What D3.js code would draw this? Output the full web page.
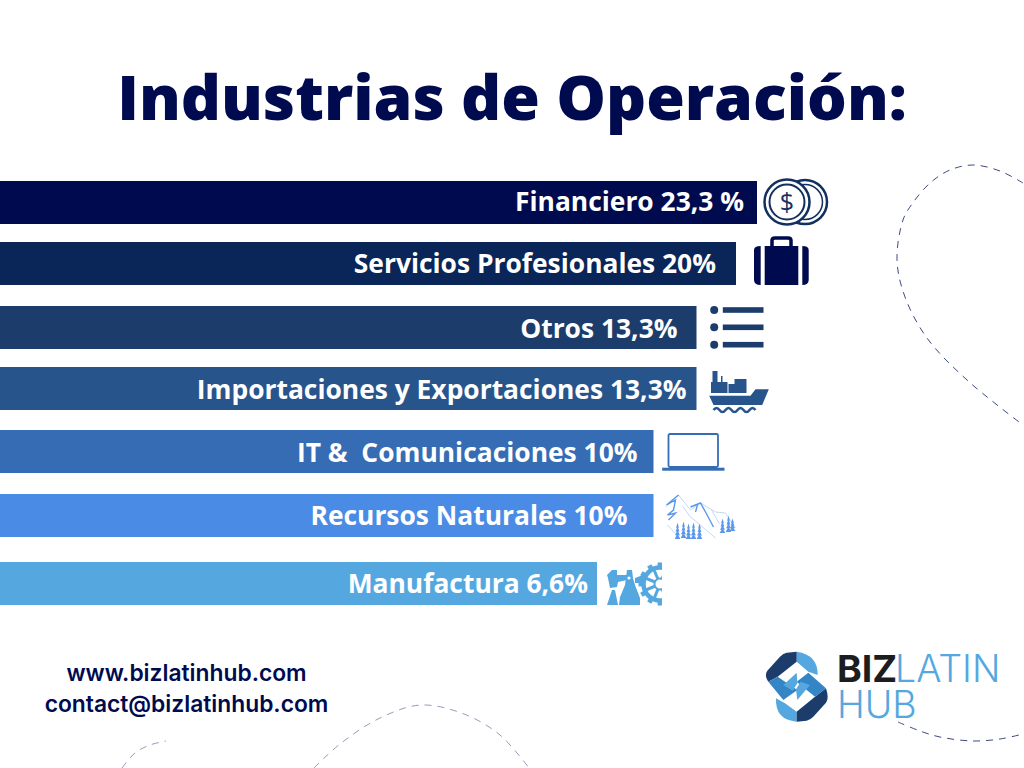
<!DOCTYPE html>
<html>
<head>
<meta charset="utf-8">
<script src="https://cdn.jsdelivr.net/npm/d3@7"></script>
<style>
  html, body { margin: 0; padding: 0; background: #fff; }
  svg { display: block; }
</style>
</head>
<body>
<div id="chart"></div>
<script>
const categories = ["Financiero", "Servicios Profesionales", "Otros", "Importaciones y Exportaciones", "IT &  Comunicaciones", "Recursos Naturales", "Manufactura"]
const values = [23.3, 20, 13.3, 13.3, 10, 10, 6.6]
const valueLabels = ["23,3 %", "20%", "13,3%", "13,3%", "10%", "10%", "6,6%"]
const barColors = ["#000b4f", "#0a2558", "#1c3d6b", "#28548c", "#366cb3", "#4a8be6", "#55a8df"]
const iconNames = ["coins", "briefcase", "list", "ship", "laptop", "mountains", "factory"]

// the bars in the picture are not proportional, so the scale has to bend
const valueStops = [6.6, 10, 13.3, 20, 23.3]
const lengthStops = [597, 653.5, 696.5, 736, 757]
const rowTops = [181, 242, 306, 367, 430, 494, 562]
const labelGaps = [13, 20, 19, 10, 16, 26, 9]
const labelDrops = [30, 31, 32, 32, 32, 31, 31]

const width = 1024, height = 768, barHeight = 43

const svg = d3.select("#chart").append("svg")
    .attr("width", width)
    .attr("height", height)

const x = d3.scaleLinear().domain(valueStops).range(lengthStops)
const y = d3.scaleOrdinal().domain(categories).range(rowTops)

const dashes = [
    [[1023,183],[1000,171],[973,165],[950,170],[930,183],[912,204],[903,220],[897,260],[905,297],[927,338],[967,380],[1023,425]],
    [[122,768],[135,753],[150,745],[166,741]],
    [[314,768],[340,744],[380,718],[421,705],[464,714],[500,735],[529,768]],
    [[898,722],[920,731],[940,737],[973,741],[1000,739],[1023,734]]
]
const dashOpacity = [1, 0.55, 0.55, 1]
const curve = d3.line().curve(d3.curveCatmullRom)
svg.selectAll(".dash").data(dashes).enter()
    .append("path")
    .attr("class", "dash")
    .attr("d", curve)
    .attr("fill", "none")
    .attr("stroke", "#3d4a80")
    .attr("stroke-width", 1)
    .attr("stroke-opacity", (d, i) => dashOpacity[i])
    .attr("stroke-dasharray", "7 6")

svg.append("text")
    .attr("x", 512)
    .attr("y", 120)
    .attr("text-anchor", "middle")
    .attr("font-family", "Open Sans")
    .attr("font-weight", 800)
    .attr("font-size", 62.5)
    .attr("fill", "#000b4f")
    .text("Industrias de Operación:")

svg.selectAll(".bar").data(values).enter()
    .append("rect")
    .attr("class", "bar")
    .attr("x", 0)
    .attr("y", (d, i) => y(categories[i]))
    .attr("width", d => x(d))
    .attr("height", barHeight)
    .attr("fill", (d, i) => barColors[i])

svg.selectAll(".label").data(values).enter()
    .append("text")
    .attr("class", "label")
    .attr("xml:space", "preserve")
    .style("white-space", "pre")
    .attr("x", (d, i) => x(d) - labelGaps[i])
    .attr("y", (d, i) => y(categories[i]) + labelDrops[i])
    .attr("text-anchor", "end")
    .attr("font-family", "Open Sans")
    .attr("font-weight", 700)
    .attr("font-size", 26.4)
    .attr("fill", "#fff")
    .text((d, i) => categories[i] + " " + valueLabels[i])

// icons are drawn from the end of their bar
const icons = {
    coins(g) {
        const c = "#12305f"
        g.append("circle").attr("cx", 48).attr("cy", 21).attr("r", 22).attr("fill", "none").attr("stroke", c).attr("stroke-width", 2.5)
        g.append("circle").attr("cx", 48).attr("cy", 21).attr("r", 17.5).attr("fill", "none").attr("stroke", c).attr("stroke-width", 1.5)
        g.append("circle").attr("cx", 30).attr("cy", 21).attr("r", 22.5).attr("fill", "#fff").attr("stroke", c).attr("stroke-width", 2.5)
        g.append("circle").attr("cx", 30).attr("cy", 21).attr("r", 17.5).attr("fill", "none").attr("stroke", c).attr("stroke-width", 2)
        g.append("text").attr("x", 30).attr("y", 30).attr("text-anchor", "middle")
            .attr("font-family", "Open Sans").attr("font-weight", 400).attr("font-size", 25).attr("fill", c).text("$")
    },
    briefcase(g) {
        const c = "#000b4f"
        g.append("path").attr("d", "M36,5 V-1.5 Q36,-4 39,-4 H52 Q55,-4 55,-1.5 V5")
            .attr("fill", "none").attr("stroke", c).attr("stroke-width", 3.5)
        g.append("path").attr("d", "M18,8 Q18,4 24.7,4 V43 Q18,43 18,38 Z").attr("fill", c)
        g.append("rect").attr("x", 28.7).attr("y", 4).attr("width", 33.6).attr("height", 39).attr("fill", c)
        g.append("path").attr("d", "M66.3,4 Q72.7,4 72.7,8 V38 Q72.7,43 66.3,43 Z").attr("fill", c)
    },
    list(g) {
        const c = "#1c3d6b"
        g.selectAll("circle").data([4, 21.3, 38.7]).enter().append("circle")
            .attr("cx", 17.7).attr("cy", d => d).attr("r", 4).attr("fill", c)
        g.selectAll("rect").data([4, 21.3, 38.7]).enter().append("rect")
            .attr("x", 26.3).attr("y", d => d - 2.8).attr("width", 40.7).attr("height", 5.6).attr("fill", c)
    },
    ship(g) {
        const c = "#28548c"
        g.append("path").attr("d", "M16,4 H21 V15 H24.5 V9 H26 V15 H31 V26 H14.5 V15 H16 Z M32,26 V17 H38 V12 H50 V26 Z").attr("fill", c)
        g.append("path").attr("d", "M12.7,28.7 H54 L59,22.3 H72.3 L65.7,38 H17 Z").attr("fill", c)
        g.append("path").attr("d", "M17,43 q3,-4 6,0 q3,4 6,0 q3,-4 6,0 q3,4 6,0 q3,-4 6,0 q3,4 6,0 q3,-4 6,0")
            .attr("fill", "none").attr("stroke", c).attr("stroke-width", 2.5)
    },
    laptop(g) {
        const c = "#366cb3"
        g.append("rect").attr("x", 15).attr("y", 4).attr("width", 49.5).attr("height", 33).attr("rx", 1.5)
            .attr("fill", "none").attr("stroke", c).attr("stroke-width", 1.8)
        g.append("rect").attr("x", 8.7).attr("y", 37.7).attr("width", 62.3).attr("height", 3).attr("fill", c)
    },
    mountains(g) {
        const c = "#5b97ea"
        g.append("path").attr("d", "M25,1 L37,16 L47,9 L62,18 L72,19 L82,34 M29,12 L36,22 L62,44 M14,31 L24,42 M25,1 L12,13 M58,16 L66,30")
            .attr("fill", "none").attr("stroke", "#bcd4f6").attr("stroke-width", 0.9)
        g.append("path").attr("d", "M25,1 L13,11 L22,6 L20,16 L14,21 L22,19 L15,26 M37,13 L47,9 L52,18 L60,33 M44,11 L42,18")
            .attr("fill", "none").attr("stroke", c).attr("stroke-width", 1.4)
        const trees = [[24,30,45],[30,29,44],[35,31,45],[40,30,45],[46,31,45],[69,26,39],[75,23,38],[79,26,37]]
        g.selectAll("path.tree").data(trees).enter()
            .append("path").attr("class", "tree")
            .attr("d", d => {
                const h = (d[2] - d[1]) / 4
                return d3.range(4).map(k => `M${d[0]},${d[1] + k * h - 1.5} L${d[0] + 1.4 + k * 0.5},${d[1] + (k + 1) * h} H${d[0] - 1.4 - k * 0.5} Z`).join(" ")
            })
            .attr("fill", c)
    },
    factory(g) {
        const c = "#55a8df"
        g.append("path").attr("d", "M10,13 L15,8 H20 V13 H30 V18 L21,20 L20,25 L13,26 L11,16 Z M15,28 H18 L21,43 H10 Z").attr("fill", c)
        g.append("path").attr("d", "M30,8 H35 L36,16 L38,23 L43,36 V43 H22 L23,35 L28,23 L29,15 Z M38,16 L46,13 V21 L38,21 Z").attr("fill", c)
        g.append("circle").attr("cx", 32).attr("cy", 16).attr("r", 1.6).attr("fill", "#fff")
        g.append("clipPath").attr("id", "gearClip").append("rect").attr("x", 0).attr("y", -2).attr("width", 65).attr("height", 48)
        const gear = g.append("g").attr("clip-path", "url(#gearClip)").append("g").attr("transform", "translate(63,22)")
        gear.append("circle").attr("r", 16.5).attr("fill", "none").attr("stroke", c).attr("stroke-width", 4.5)
        gear.selectAll("rect.spoke").data(d3.range(0, 360, 45)).enter().append("rect").attr("class", "spoke")
            .attr("x", -1.5).attr("y", -16).attr("width", 3).attr("height", 16)
            .attr("fill", c)
            .attr("transform", d => `rotate(${d + 22})`)
        gear.selectAll("rect.tooth").data(d3.range(0, 360, 30)).enter().append("rect").attr("class", "tooth")
            .attr("x", -2.4).attr("y", -21.5).attr("width", 4.8).attr("height", 4)
            .attr("fill", c)
            .attr("transform", d => `rotate(${d})`)
        gear.append("circle").attr("r", 6.5).attr("fill", c)
        gear.append("circle").attr("r", 4.5).attr("fill", "#fff")
    }
}

iconNames.forEach((name, i) => {
    const g = svg.append("g")
        .attr("class", "icon")
        .attr("transform", `translate(${x(values[i])},${y(categories[i])})`)
    icons[name](g)
})

const footer = ["www.bizlatinhub.com", "contact@bizlatinhub.com"]
const footerBaselines = [681, 712]
svg.selectAll(".footer").data(footer).enter()
    .append("text")
    .attr("class", "footer")
    .attr("x", 186.5)
    .attr("y", (d, i) => footerBaselines[i])
    .attr("text-anchor", "middle")
    .attr("font-family", "Inter")
    .attr("font-weight", 600)
    .attr("font-size", 22.8)
    .attr("fill", "#000b4f")
    .text(d => d)

// logo, path units are 3x page pixels
const logo = svg.append("g").attr("transform", "translate(740,630) scale(0.3333)")
const logoParts = [
    ["#55a8df", "M170,65 Q235,75 233,135 L205,125 L170,95 Z"],
    ["#55a8df", "M170,275 Q105,270 108,205 L135,220 L170,245 Z"],
    ["#1c3d6b", "M170,65 L140,68 Q130,70 120,80 L82,122 Q72,135 85,155 L113,140 L170,95 Z"],
    ["#1c3d6b", "M170,275 L200,272 Q210,270 220,260 L258,218 Q268,205 258,175 L225,200 L170,245 Z"],
    ["#3385c6", "M85,155 L130,210 L172,180 L113,140 Z"],
    ["#3385c6", "M258,175 L205,128 L170,155 L225,200 Z"],
    ["#55a8df", "M170,128 L130,165 L158,182 L172,160 Z"],
    ["#55a8df", "M172,210 L210,165 L182,155 L168,178 Z"]
]
logo.selectAll("path").data(logoParts).enter()
    .append("path")
    .attr("fill", d => d[0])
    .attr("d", d => d[1])

const logoText = [
    ["BIZ", 837, 682, 700, "#1d1d1f"],
    ["LATIN", 895, 682, 300, "#55a8df"],
    ["HUB", 837, 718, 300, "#55a8df"]
]
svg.selectAll(".logoText").data(logoText).enter()
    .append("text")
    .attr("class", "logoText")
    .attr("x", d => d[1])
    .attr("y", d => d[2])
    .attr("font-family", "Inter")
    .attr("font-weight", d => d[3])
    .attr("font-size", 37.5)
    .attr("fill", d => d[4])
    .text(d => d[0])
</script>
</body>
</html>
